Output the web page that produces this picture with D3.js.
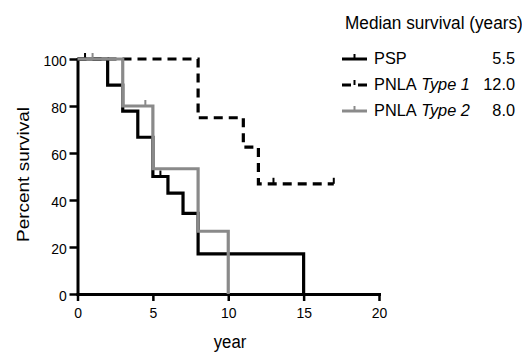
<!DOCTYPE html>
<html>
<head>
<meta charset="utf-8">
<script src="https://cdn.jsdelivr.net/npm/d3@7"></script>
<style>
  body { margin: 0; background: #fff; }
  svg { display: block; font-family: Arial, "Liberation Sans", Helvetica, sans-serif; }
</style>
</head>
<body>
<svg width="522" height="352"></svg>
<script>
// survival steps
const pspTime = [0, 2, 3, 4, 5, 6, 7, 8, 15];
const pspSurv = [100, 88.9, 77.8, 66.7, 50, 42.9, 34.3, 17.1, 0];
const type1Time = [0, 8, 11, 12, 17];
const type1Surv = [100, 75, 62.5, 46.9, 46.9];
const type2Time = [0, 3, 5, 8, 10];
const type2Surv = [100, 80, 53.3, 26.7, 0];

// censored marks
const pspCensorTime = [0.5, 5.5];
const pspCensorSurv = [100, 50];
const type1CensorTime = [13, 17];
const type1CensorSurv = [46.9, 46.9];
const type2CensorTime = [1, 4.5];
const type2CensorSurv = [100, 80];

const xTicks = [0, 5, 10, 15, 20];
const yTicks = [0, 20, 40, 60, 80, 100];

const legendNames = ["PSP", "PNLA", "PNLA"];
const legendItalic = ["", "Type 1", "Type 2"];
const legendMedians = ["5.5", "12.0", "8.0"];

const black = "#000";
const grey = "#8a8a8a";

const svg = d3.select("svg");

const x = d3.scaleLinear().domain([0, 20]).range([77.5, 379]);
const y = d3.scaleLinear().domain([0, 100]).range([294, 59]);

const line = d3.line()
    .x((d) => x(d[0]))
    .y((d) => y(d[1]))
    .curve(d3.curveStepAfter);

// axes
const yAxis = svg.append("g")
    .attr("transform", `translate(${x(0)},0)`)
    .call(d3.axisLeft(y).tickValues(yTicks).tickSize(8).tickSizeOuter(0).tickPadding(4));
const xAxis = svg.append("g")
    .attr("transform", `translate(0,${y(0)})`)
    .call(d3.axisBottom(x).tickValues(xTicks).tickSize(7).tickSizeOuter(0).tickPadding(6));

[yAxis, xAxis].forEach((ax) => {
    ax.select(".domain").attr("stroke", black).attr("stroke-width", 3).attr("stroke-linecap", "square");
    ax.selectAll(".tick line").attr("stroke", black).attr("stroke-width", 2.5);
    ax.selectAll(".tick text")
        .attr("fill", black)
        .style("font-size", "15.5px")
        .attr("transform", "scale(0.9,1)");
});
yAxis.selectAll(".tick text").attr("dy", "0.42em");

function drawCurve(times, survs, color, dashed) {
    const pts = times.map((t, i) => [t, survs[i]]);
    svg.append("path")
        .datum(pts)
        .attr("d", line)
        .attr("fill", "none")
        .attr("stroke", color)
        .attr("stroke-width", 3.2)
        .attr("stroke-dasharray", dashed ? "9,6" : null);
}

function drawCensors(times, survs, color) {
    svg.append("g")
        .selectAll("line")
        .data(times.map((t, i) => [t, survs[i]]))
        .enter()
        .append("line")
        .attr("x1", (d) => x(d[0]))
        .attr("x2", (d) => x(d[0]))
        .attr("y1", (d) => y(d[1]) - 6)
        .attr("y2", (d) => y(d[1]))
        .attr("stroke", color)
        .attr("stroke-width", 2);
}

drawCurve(pspTime, pspSurv, black, false);
drawCensors(pspCensorTime, pspCensorSurv, black);
drawCurve(type1Time, type1Surv, black, true);
drawCensors(type1CensorTime, type1CensorSurv, black);
drawCurve(type2Time, type2Surv, grey, false);
drawCensors(type2CensorTime, type2CensorSurv, grey);

// axis titles
svg.append("text")
    .attr("transform", "translate(28.5,174.5) rotate(-90) scale(1,0.9)")
    .attr("text-anchor", "middle")
    .style("font-size", "19px")
    .text("Percent survival");

svg.append("text")
    .attr("transform", "translate(230,348) scale(0.88,1)")
    .attr("text-anchor", "middle")
    .style("font-size", "19px")
    .text("year");

// legend
svg.append("text")
    .attr("transform", "translate(345,28.5) scale(0.93,1)")
    .style("font-size", "18.5px")
    .text("Median survival (years)");

const legendColors = [black, black, grey];
const legendDash = [null, "9,7", null];
const rowBase = [64, 90, 116];

legendNames.forEach((name, i) => {
    const by = rowBase[i];
    const ly = by - 5;
    svg.append("line")
        .attr("x1", 342).attr("x2", 367)
        .attr("y1", ly).attr("y2", ly)
        .attr("stroke", legendColors[i])
        .attr("stroke-width", 3)
        .attr("stroke-dasharray", legendDash[i]);
    svg.append("line")
        .attr("x1", 354.5).attr("x2", 354.5)
        .attr("y1", ly - 5).attr("y2", ly)
        .attr("stroke", legendColors[i])
        .attr("stroke-width", 2);

    const t = svg.append("text")
        .attr("transform", `translate(374,${by}) scale(0.96,1)`)
        .style("font-size", "17px");
    t.append("tspan").text(name);
    if (legendItalic[i]) {
        t.append("tspan").text(" ");
        t.append("tspan").style("font-style", "italic").text(legendItalic[i]);
    }

    svg.append("text")
        .attr("transform", `translate(515,${by}) scale(0.96,1)`)
        .attr("text-anchor", "end")
        .style("font-size", "17px")
        .text(legendMedians[i]);
});
</script>
</body>
</html>
